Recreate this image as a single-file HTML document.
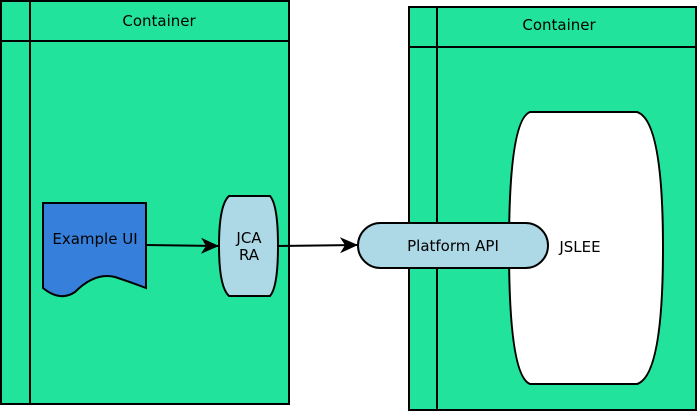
<!DOCTYPE html>
<html><head><style>body{margin:0;background:#fff}svg{display:block}text{font-family:"DejaVu Sans","Liberation Sans",sans-serif;font-size:15px;fill:#000}</style></head>
<body>
<svg width="698" height="411" viewBox="0 0 698 411" xmlns="http://www.w3.org/2000/svg">
<defs><marker id="a" markerWidth="18" markerHeight="18" refX="17" refY="9" orient="auto" markerUnits="userSpaceOnUse"><path d="M0,1 L18,9 L0,17 L5,9 Z" fill="#000"/></marker></defs>
<g stroke="#000" stroke-width="2">
<rect x="1" y="1" width="288" height="403" fill="#22e39c"/>
<line x1="1" y1="41" x2="289" y2="41"/><line x1="30" y1="1" x2="30" y2="404"/>
<rect x="409" y="7" width="287" height="403" fill="#22e39c"/>
<line x1="409" y1="47" x2="696" y2="47"/><line x1="437" y1="7" x2="437" y2="410"/>
<path d="M530,112 L637,112 Q663,120 663,248 Q663,376 637,384 L530,384 Q509,376 509,248 Q509,120 530,112 Z" fill="#fff"/>
<path d="M43,203 L146,203 L146,288 Q130,282 115,277 Q95,272 75,292 Q60,302 43,288 Z" fill="#367fdb"/>
<path d="M229,196 L270,196 Q278,205 278,246 Q278,287 270,296 L229,296 Q219,287 219,246 Q219,205 229,196 Z" fill="#add8e6"/>
<rect x="358" y="223" width="190" height="45" rx="22.5" fill="#add8e6"/>
<line x1="146" y1="245" x2="218" y2="246" marker-end="url(#a)"/>
<line x1="278" y1="246" x2="357" y2="245" marker-end="url(#a)"/>
</g>
<text x="159" y="26" text-anchor="middle">Container</text>
<text x="559" y="30" text-anchor="middle">Container</text>
<text x="95" y="244" text-anchor="middle">Example UI</text>
<text x="249" y="243" text-anchor="middle">JCA</text>
<text x="249" y="260" text-anchor="middle">RA</text>
<text x="453" y="251" text-anchor="middle">Platform API</text>
<text x="580" y="252" text-anchor="middle">JSLEE</text>
</svg>
</body></html>
